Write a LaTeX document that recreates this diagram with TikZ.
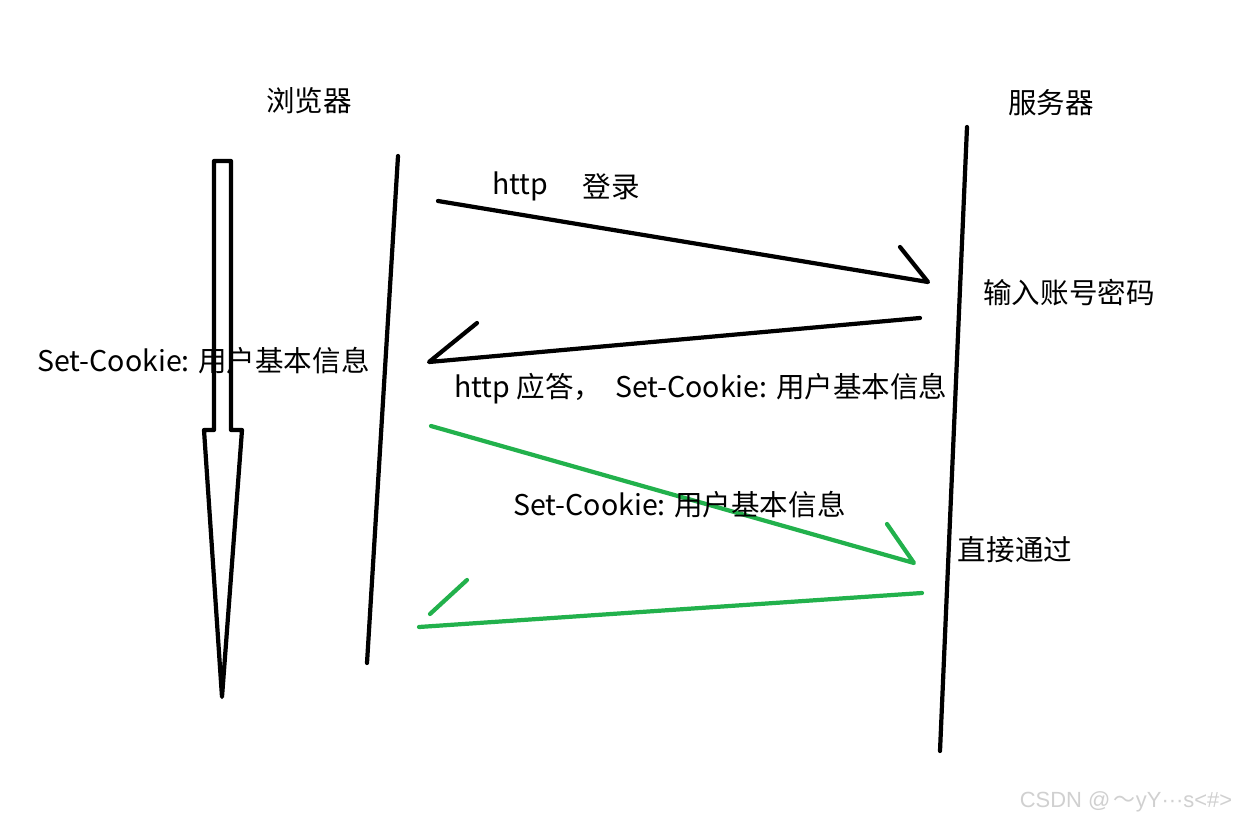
\documentclass[tikz,border=0pt]{standalone}
\usepackage{fontspec}
\setmainfont{Noto Sans CJK SC}
\newfontfamily\markfont{Liberation Sans}
\newfontfamily\cjkmark{Noto Sans CJK SC}
\usepackage{xcolor}
\usepackage{tikz}
\definecolor{SKGreen}{HTML}{22B14C}
\definecolor{SKMark}{HTML}{D0D0D0}
\tikzset{
  pen/.style={line width=3pt,line cap=round,line join=round},
  lbl/.style={inner sep=0pt,font=\fontsize{20.3}{24}\selectfont},
}

\begin{document}
\begin{tikzpicture}[x=0.025cm,y=-0.025cm]
\path[use as bounding box] (0,0) rectangle (1236,821);
\fill[white] (0,0) rectangle (1236,821);
% titles
\node[lbl] (browser) at (309,101) {浏览器};
\node[lbl] (server) at (1051,103) {服务器};
% big hollow arrow
\draw[pen] (214,161) -- (231,161) -- (231,430) -- (242,430) -- (222,697) -- (204,430) -- (214,430) -- cycle;
\node[lbl,anchor=west] (cookieL) at (37,361) {Set-Cookie: 用户基本信息};
% lifelines
\coordinate (bTop) at (398,156);
\coordinate (bBot) at (367,663);
\coordinate (sTop) at (967,127);
\coordinate (sBot) at (940,751);
\draw[pen] (bTop) -- (bBot);
\draw[pen] (sTop) -- (sBot);
% login request
\coordinate (r1a) at (438,201);
\coordinate (r1b) at (928,282);
\coordinate (r1h) at (900,247);
\draw[pen] (r1a) -- (r1b) -- (r1h);
\node[lbl] (http) at (520,186) {http};
\node[lbl] (login) at (611,187) {登录};
\node[lbl] (input) at (1069,293) {输入账号密码};
% reply with cookie
\coordinate (r2a) at (920,318);
\coordinate (r2b) at (429,362);
\coordinate (r2h) at (477,323);
\draw[pen] (r2a) -- (r2b) -- (r2h);
\node[lbl,anchor=west] (reply) at (454,389) {http 应答，\ \ Set-Cookie: 用户基本信息};
% second visit
\coordinate (g1a) at (431,426);
\coordinate (g1b) at (914,563);
\coordinate (g1h) at (887,524);
\draw[pen,SKGreen] (g1a) -- (g1b) -- (g1h);
\node[lbl,anchor=west] (cookieM) at (513,505) {Set-Cookie: 用户基本信息};
\node[lbl] (pass) at (1015,550) {直接通过};
\coordinate (g2a) at (922,593);
\coordinate (g2b) at (419,627);
\coordinate (g2h) at (467,580);
\coordinate (g2t) at (430,614);
\draw[pen,SKGreen] (g2a) -- (g2b);
\draw[pen,SKGreen] (g2h) -- (g2t);
% watermark
\node[inner sep=0pt,text=SKMark,font=\markfont\fontsize{15.6}{18}\selectfont] (mark) at (1126,802) {CSDN @\,{\cjkmark ～}yY···s<\#>};
\end{tikzpicture}
\end{document}
